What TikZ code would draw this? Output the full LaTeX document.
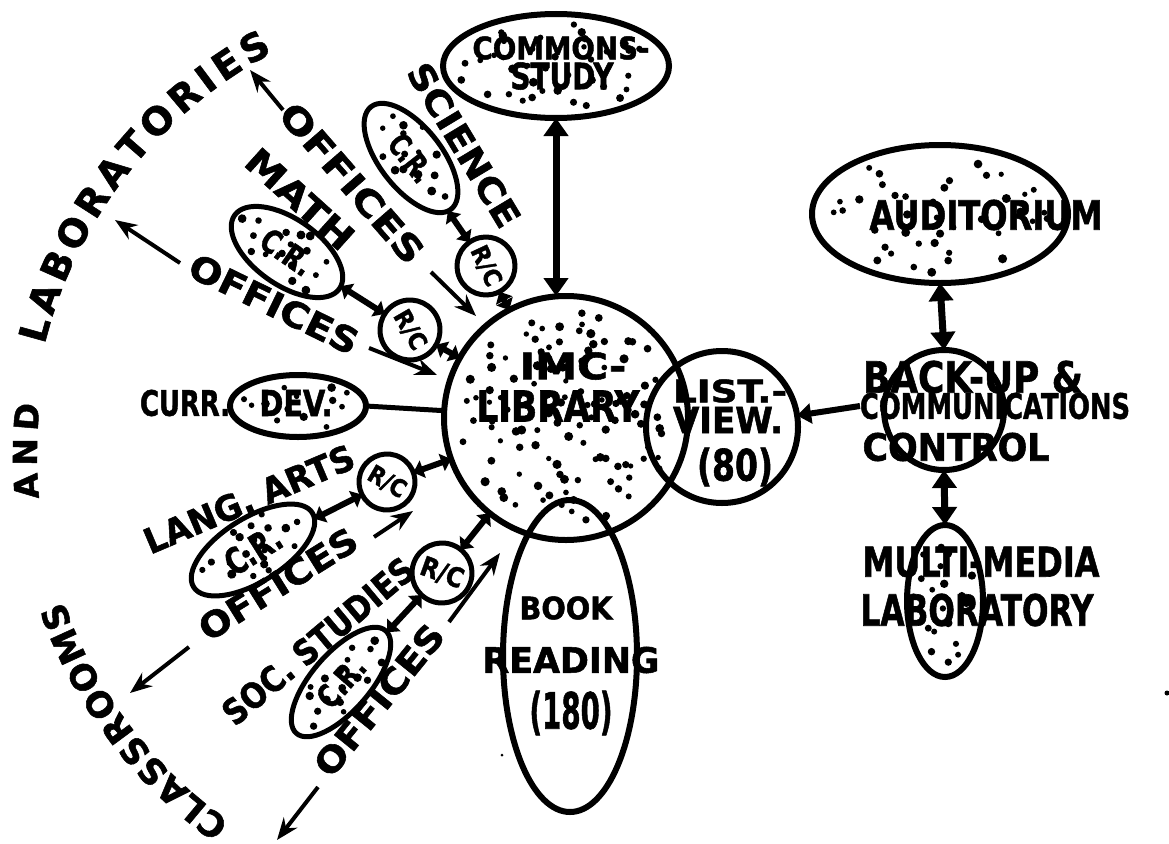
\documentclass[tikz,border=0pt]{standalone}
\usepackage{fontspec}
\setmainfont{DejaVu Sans}[BoldFeatures={FakeBold=1.5}]
\usepackage{graphicx}
\usetikzlibrary{shapes.geometric,arrows.meta,decorations.text}
\newcommand\fitbox[3]{\resizebox{#1pt}{#2pt}{\bfseries #3}}
\newcommand\stip[6]{%
  \begin{scope}[shift={(#1,#2)},rotate=#5]
    \foreach \k in {1,...,#6}{%
      \pgfmathsetmacro\stA{360*mod(\k*0.381966,1)+25*rand}%
      \pgfmathsetmacro\stR{min(0.88,0.88*sqrt((\k-0.5)/#6)+0.04*rand)}%
      \pgfmathsetmacro\stS{2.6+2*rnd}%
      \fill ({#3*\stR*cos(\stA)},{#4*\stR*sin(\stA)}) circle[radius=\stS];
    }%
  \end{scope}}
\begin{document}
\begin{tikzpicture}[x=1pt,y=-1pt,
  shp/.style={draw,line width=6pt,inner sep=0pt,outer sep=0pt},
  ell/.style={shp,ellipse},
  circ/.style={shp,circle},
  small/.style={line width=5pt},
  lbl/.style={inner sep=0pt,outer sep=0pt},
  bigdbl/.style={line width=7pt,{Triangle[length=18pt,width=24pt]}-{Triangle[length=18pt,width=24pt]}},
  spoke/.style={line width=6pt,{Triangle[length=10pt,width=18pt]}-{Triangle[length=10pt,width=18pt]}},
  single/.style={line width=6pt,-{Triangle[length=14pt,width=20pt]}},
  offarrow/.style={line width=4pt,-{Stealth[length=22pt,width=17pt]}},
  arctext/.style={decorate,decoration={text along path,text align={fit to path},text={#1}}}
]
\fill[white] (0,0) rectangle (1169,843);
\useasboundingbox (0,0) rectangle (1169,843);
\pgfmathsetseed{11}
% stipple
\stip{556}{66}{113}{52}{0}{38}
\stip{566}{418}{122}{122}{0}{115}
\stip{940}{214}{128}{69}{0}{42}
\stip{945}{601}{38}{76}{0}{20}
\stip{298}{406}{68}{31}{0}{13}
\stip{413}{157}{65}{31}{-52}{15}
\stip{287}{252}{64}{33}{-35}{17}
\stip{253}{548}{70}{32}{32}{19}
\stip{343}{680}{68}{29}{49}{17}
% shapes
\node[ell,minimum width=226pt,minimum height=104pt] (commons) at (556,66) {};
\node[circ,minimum size=244pt] (lib) at (566,418) {};
\node[circ,minimum size=152pt] (listview) at (722,427) {};
\node[ell,minimum width=134pt,minimum height=312pt] (book) at (570,656) {};
\node[ell,minimum width=256pt,minimum height=138pt] (aud) at (940,214) {};
\node[circ,minimum size=120pt] (backup) at (944,410) {};
\node[ell,minimum width=76pt,minimum height=152pt] (mm) at (945,601) {};
\node[ell,minimum width=136pt,minimum height=62pt] (currdev) at (298,406) {};
\node[ell,small,minimum width=130pt,minimum height=62pt,rotate=-52] (sciCR) at (411,158) {\fitbox{52}{23}{C.R.}};
\node[circ,small,minimum size=58pt,rotate=-65] (sciRC) at (486,266) {\fitbox{42}{18}{R/C}};
\node[ell,small,minimum width=128pt,minimum height=66pt,rotate=-35] (mathCR) at (287,252) {\fitbox{56}{24}{C.R.}};
\node[circ,small,minimum size=60pt,rotate=-60] (mathRC) at (410,330) {\fitbox{42}{18}{R/C}};
\node[ell,small,minimum width=140pt,minimum height=64pt,rotate=32] (langCR) at (253,550) {\fitbox{60}{27}{C.R.}};
\node[circ,small,minimum size=56pt,rotate=-30] (langRC) at (387,482) {\fitbox{40}{18}{R/C}};
\node[ell,small,minimum width=136pt,minimum height=58pt,rotate=49] (socCR) at (341,682) {\fitbox{56}{24}{C.R.}};
\node[circ,small,minimum size=60pt,rotate=-20] (socRC) at (442,573) {\fitbox{44}{20}{R/C}};
% texts
\node[lbl] (commT1) at (561,48) {\fitbox{177}{23}{COMMONS-}};
\node[lbl] (commT2) at (562,76) {\fitbox{103}{27}{STUDY}};
\node[lbl] (libT1) at (573,366) {\fitbox{107}{27}{IMC-}};
\node[lbl] (libT2) at (558,406) {\fitbox{163}{31}{LIBRARY}};
\node[lbl] (lvT1) at (730,391) {\fitbox{114}{23}{LIST.-}};
\node[lbl] (lvT2) at (728,420) {\fitbox{110}{26}{VIEW.}};
\node[lbl] (lvT3) at (735,467) {\fitbox{76}{33}{(80)}};
\node[lbl] (bkT1) at (566,608) {\fitbox{93}{23}{BOOK}};
\node[lbl] (bkT2) at (571,660) {\fitbox{177}{26}{READING}};
\node[lbl] (bkT3) at (571,713) {\fitbox{83}{38}{(180)}};
\node[lbl] (audT) at (986,215) {\fitbox{233}{30}{AUDITORIUM}};
\node[lbl] (buT1) at (973,377) {\fitbox{220}{32}{BACK-UP \&}};
\node[lbl] (buT2) at (995,406) {\fitbox{270}{26}{COMMUNICATIONS}};
\node[lbl] (buT3) at (956,447) {\fitbox{187}{28}{CONTROL}};
\node[lbl] (mmT1) at (981,562) {\fitbox{237}{30}{MULTI-MEDIA}};
\node[lbl] (mmT2) at (977,610) {\fitbox{233}{32}{LABORATORY}};
\node[lbl] (cdT1) at (185,403) {\fitbox{90}{26}{CURR.}};
\node[lbl] (cdT2) at (296,403) {\fitbox{73}{26}{DEV.}};
\node[lbl,rotate=-59] (sciT) at (464,145) {\fitbox{185}{26}{SCIENCE}};
\node[lbl,rotate=-49] (sciOff) at (352,183) {\fitbox{200}{26}{OFFICES}};
\node[lbl,rotate=-42] (mathT) at (300,199) {\fitbox{132}{26}{MATH}};
\node[lbl,rotate=-26] (mathOff) at (274,304) {\fitbox{184}{26}{OFFICES}};
\node[lbl,rotate=23] (langT) at (249,499) {\fitbox{225}{26}{LANG. ARTS}};
\node[lbl,rotate=32] (langOff) at (278,584) {\fitbox{180}{26}{OFFICES}};
\node[lbl,rotate=40] (socT) at (318,641) {\fitbox{238}{26}{SOC. STUDIES}};
\node[lbl,rotate=51] (socOff) at (379,700) {\fitbox{184}{26}{OFFICES}};
% arc texts
\begin{scope}[shift={(487,455)},y=1pt]
  \path[arctext={|\bfseries\fontsize{38}{38}\selectfont|LABORATORIES}] (166:456) arc[start angle=166,end angle=118,radius=456];
  \path[arctext={|\bfseries\fontsize{33}{33}\selectfont|AND}] (185.5:450) arc[start angle=185.5,end angle=173.5,radius=450];
  \path[arctext={|\bfseries\fontsize{35}{35}\selectfont|CLASSROOMS}] (235:448) arc[start angle=235,end angle=199,radius=448];
\end{scope}
% connectors
\draw[bigdbl] (commons.south) -- (commons.south |- lib.north);
\draw[bigdbl] (aud.south) -- (backup.north);
\draw[bigdbl] (backup.south) -- (mm.north);
\draw[single] (buT2.west) -- (listview);
\draw[line width=5pt] (currdev.east) -- (lib);
\draw[spoke] (sciCR) -- (sciRC);
\draw[spoke] (sciRC) -- (lib);
\draw[spoke] (mathCR) -- (mathRC);
\draw[spoke] (mathRC) -- (lib);
\draw[spoke] (langCR) -- (langRC);
\draw[spoke] (langRC) -- (lib);
\draw[spoke] (socCR) -- (socRC);
\draw[spoke] (socRC) -- (lib);
% office arrows
\coordinate (sciOffA) at (431,272); \coordinate (sciOffB) at (476,316);
\coordinate (sciOffC) at (283,110); \coordinate (sciLab) at (250,70);
\coordinate (mathOffA) at (369,348); \coordinate (mathOffB) at (437,375);
\coordinate (mathOffC) at (180,263); \coordinate (mathLab) at (115,220);
\coordinate (langOffA) at (374,537); \coordinate (langOffB) at (413,511);
\coordinate (langOffC) at (189,647); \coordinate (langCls) at (130,693);
\coordinate (socOffA) at (449,622); \coordinate (socOffB) at (500,553);
\coordinate (socOffC) at (318,787); \coordinate (socCls) at (277,840);
\draw[offarrow] (sciOffA) -- (sciOffB);
\draw[offarrow] (sciOffC) -- (sciLab);
\draw[offarrow] (mathOffA) -- (mathOffB);
\draw[offarrow] (mathOffC) -- (mathLab);
\draw[offarrow] (langOffA) -- (langOffB);
\draw[offarrow] (langOffC) -- (langCls);
\draw[offarrow] (socOffA) -- (socOffB);
\draw[offarrow] (socOffC) -- (socCls);
% stray specks
\fill (1167,693) circle[radius=2.5];
\fill (502,755) circle[radius=1.5];
\end{tikzpicture}
\end{document}
